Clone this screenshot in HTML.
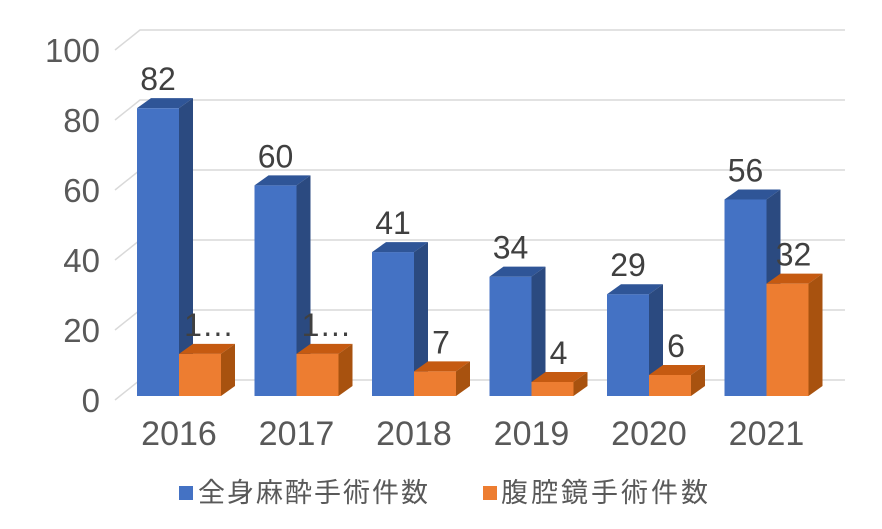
<!DOCTYPE html>
<html><head><meta charset="utf-8"><style>
body{margin:0;background:#fff;}
svg{display:block;font-family:"Liberation Sans","Noto Sans CJK JP",sans-serif;}
</style></head><body>
<svg id="c" width="882" height="529"></svg>
<script>
const categories=["2016","2017","2018","2019","2020","2021"];
const generalAnesthesia=[82,60,41,34,29,56];
const laparoscopic=[12,12,7,4,6,32];
const yTicks=[0,20,40,60,80,100];
const NS="http://www.w3.org/2000/svg";
const svg=document.getElementById("c");
function mk(tag,attrs,parent){const e=document.createElementNS(NS,tag);for(const k in attrs)e.setAttribute(k,attrs[k]);(parent||svg).appendChild(e);return e;}
const front0=396, scale=3.51;
function yF(v){return front0-v*scale;}
function xCat(i){return 137+i*117.5;}
const barW=42, dx=14, dy=-10;
yTicks.forEach(t=>{
  const yf=400-3.5*t, yb=380-3.5*t;
  const g=mk("polyline",{points:`115,${yf} 140,${yb} 845,${yb}`,fill:"none",stroke:"#d9d9d9","stroke-width":1.5});
  
  
  const tx=mk("text",{x:100,y:yf+12,"text-anchor":"end","font-size":33,fill:"#595959"});
  tx.textContent=t;
  
  
});
function bar(x,v,cf,ct,cs,name,label,lx){
  const g=mk("g",{});
  
  
  const top=yF(v);
  mk("rect",{x:x,y:top,width:barW,height:front0-top,fill:cf},g);
  mk("polygon",{points:`${x},${top} ${x+dx},${top+dy} ${x+barW+dx},${top+dy} ${x+barW},${top}`,fill:ct},g);
  mk("polygon",{points:`${x+barW},${top} ${x+barW+dx},${top+dy} ${x+barW+dx},${front0+dy} ${x+barW},${front0}`,fill:cs},g);
  const t=mk("text",{x:lx,y:top-18,"text-anchor":"middle","font-size":32,fill:"#404040"});
  t.textContent=label;
  
  
}
categories.forEach((c,i)=>{
  const x=xCat(i);
  bar(x,generalAnesthesia[i],"#4472c4","#2f5597","#2b4a80","bar-general-"+c,String(generalAnesthesia[i]),x+barW/2);
  const lv=laparoscopic[i];
  const trunc=(lv>=10&&lv<20);
  const lab=trunc?String(lv)[0]+"…":String(lv);
  bar(x+barW,lv,"#ed7d31","#c55a11","#a8520f","bar-laparoscopic-"+c,lab,x+barW+barW/2+(trunc?9:6));
  const t=mk("text",{x:x+barW,y:445,"text-anchor":"middle","font-size":34,fill:"#595959"});
  t.textContent=c;
  
  
});
const lg=mk("g",{});


mk("rect",{x:179,y:486,width:14,height:14,fill:"#4472c4"},lg);
const l1=mk("text",{x:198,y:502,"font-size":27,fill:"#595959","letter-spacing":2},lg);
l1.textContent="全身麻酔手術件数";


mk("rect",{x:483,y:486,width:14,height:14,fill:"#ed7d31"},lg);
const l2=mk("text",{x:501,y:502,"font-size":27,fill:"#595959","letter-spacing":3},lg);
l2.textContent="腹腔鏡手術件数";


</script>
</body></html>
